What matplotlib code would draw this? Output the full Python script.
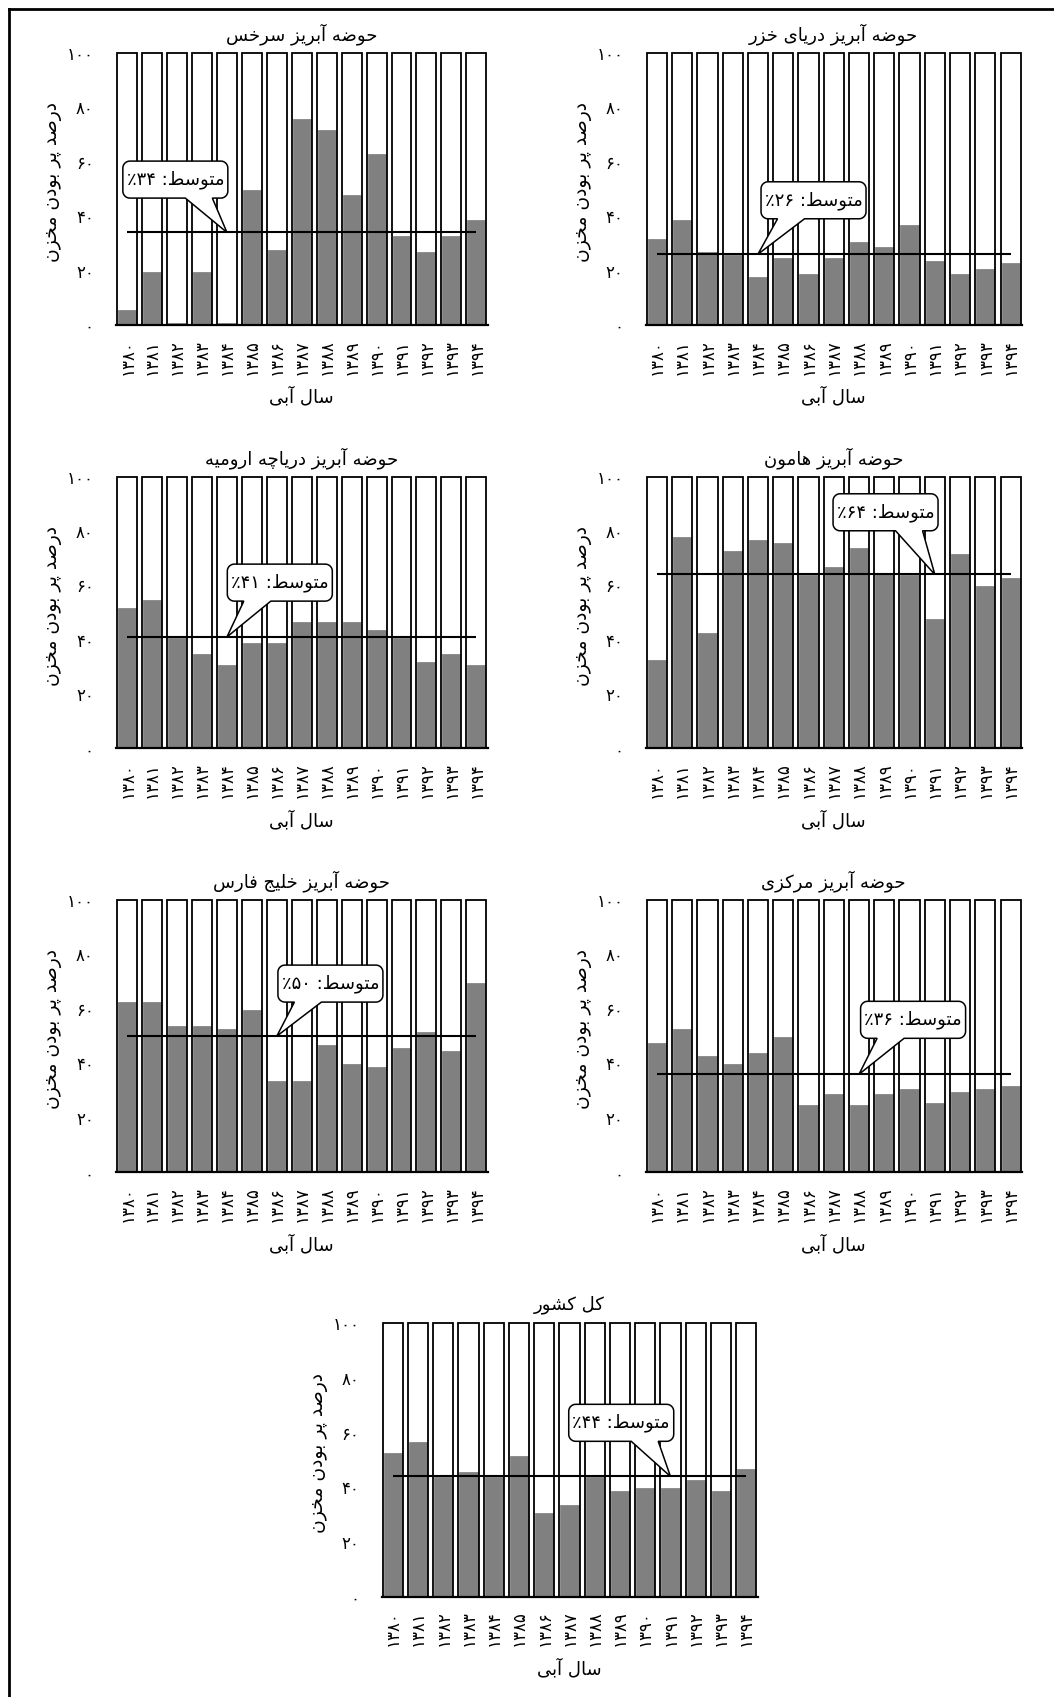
import matplotlib
matplotlib.use("Agg")
import matplotlib.pyplot as plt
import numpy as np
from matplotlib.patches import Polygon
from matplotlib.lines import Line2D
from matplotlib.transforms import IdentityTransform

plt.rcParams["font.family"] = ["DejaVu Sans"]

# ---------------------------------------------------------------- data
water_years = ["۱۳۸۰", "۱۳۸۱", "۱۳۸۲", "۱۳۸۳", "۱۳۸۴", "۱۳۸۵", "۱۳۸۶", "۱۳۸۷",
               "۱۳۸۸", "۱۳۸۹", "۱۳۹۰", "۱۳۹۱", "۱۳۹۲", "۱۳۹۳", "۱۳۹۴"]
y_ticks = [0, 20, 40, 60, 80, 100]

titles = [
    "حوضه آبریز سرخس",
    "حوضه آبریز دریای خزر",
    "حوضه آبریز دریاچه ارومیه",
    "حوضه آبریز هامون",
    "حوضه آبریز خلیج فارس",
    "حوضه آبریز مرکزی",
    "کل کشور",
]

sarakhs = [6, 20, 1, 20, 1, 50, 28, 76, 72, 48, 63, 33, 27, 33, 39]
khazar = [32, 39, 27, 26, 18, 25, 19, 25, 31, 29, 37, 24, 19, 21, 23]
urmia = [52, 55, 41, 35, 31, 39, 39, 47, 47, 47, 44, 41, 32, 35, 31]
hamoun = [33, 78, 43, 73, 77, 76, 64, 67, 74, 65, 64, 48, 72, 60, 63]
persian_gulf = [63, 63, 54, 54, 53, 60, 34, 34, 47, 40, 39, 46, 52, 45, 70]
central = [48, 53, 43, 40, 44, 50, 25, 29, 25, 29, 31, 26, 30, 31, 32]
whole_country = [53, 57, 44, 46, 44, 52, 31, 34, 44, 39, 40, 40, 43, 39, 47]

means = [34, 26, 41, 64, 50, 36, 44]

y_label = "درصد پر بودن مخزن"
x_label = "سال آبی"
mean_word = "متوسط"

# ------------------------------------------------------- persian shaping
FORMS = {  # isolated, final, initial, medial
    "\u0627": ("\uFE8D", "\uFE8E", None, None),
    "\u0622": ("\uFE81", "\uFE82", None, None),
    "\u0628": ("\uFE8F", "\uFE90", "\uFE91", "\uFE92"),
    "\u067E": ("\uFB56", "\uFB57", "\uFB58", "\uFB59"),
    "\u062A": ("\uFE95", "\uFE96", "\uFE97", "\uFE98"),
    "\u062C": ("\uFE9D", "\uFE9E", "\uFE9F", "\uFEA0"),
    "\u0686": ("\uFB7A", "\uFB7B", "\uFB7C", "\uFB7D"),
    "\u062D": ("\uFEA1", "\uFEA2", "\uFEA3", "\uFEA4"),
    "\u062E": ("\uFEA5", "\uFEA6", "\uFEA7", "\uFEA8"),
    "\u062F": ("\uFEA9", "\uFEAA", None, None),
    "\u0631": ("\uFEAD", "\uFEAE", None, None),
    "\u0632": ("\uFEAF", "\uFEB0", None, None),
    "\u0633": ("\uFEB1", "\uFEB2", "\uFEB3", "\uFEB4"),
    "\u0634": ("\uFEB5", "\uFEB6", "\uFEB7", "\uFEB8"),
    "\u0635": ("\uFEB9", "\uFEBA", "\uFEBB", "\uFEBC"),
    "\u0636": ("\uFEBD", "\uFEBE", "\uFEBF", "\uFEC0"),
    "\u0637": ("\uFEC1", "\uFEC2", "\uFEC3", "\uFEC4"),
    "\u0641": ("\uFED1", "\uFED2", "\uFED3", "\uFED4"),
    "\u06A9": ("\uFB8E", "\uFB8F", "\uFB90", "\uFB91"),
    "\u0644": ("\uFEDD", "\uFEDE", "\uFEDF", "\uFEE0"),
    "\u0645": ("\uFEE1", "\uFEE2", "\uFEE3", "\uFEE4"),
    "\u0646": ("\uFEE5", "\uFEE6", "\uFEE7", "\uFEE8"),
    "\u0647": ("\uFEE9", "\uFEEA", "\uFEEB", "\uFEEC"),
    "\u0648": ("\uFEED", "\uFEEE", None, None),
    "\u06CC": ("\uFBFC", "\uFBFD", "\uFBFE", "\uFBFF"),
}


def shape(text):
    text = text.replace("\u064A", "\u06CC").replace("\u0643", "\u06A9")
    out = []
    n = len(text)
    for i, ch in enumerate(text):
        f = FORMS.get(ch)
        if f is None:
            out.append(ch)
            continue
        prev = text[i - 1] if i > 0 else None
        nxt = text[i + 1] if i < n - 1 else None
        join_prev = prev in FORMS and FORMS[prev][2] is not None
        join_next = f[2] is not None and nxt in FORMS
        if join_prev and join_next:
            out.append(f[3])
        elif join_prev:
            out.append(f[1])
        elif join_next:
            out.append(f[2])
        else:
            out.append(f[0])
    return "".join(out)


def rtl(text):
    return shape(text)[::-1]


def fa_num(v):
    return str(v).translate(str.maketrans("0123456789", "۰۱۲۳۴۵۶۷۸۹"))


# ------------------------------------------------------------- layout
W, H = 1054, 1697
fig = plt.figure(figsize=(W / 100, H / 100), dpi=100)

cols = {"L": (116, 487.5), "R": (645.5, 1022), "C": (381.5, 757.5)}
rows = [(52.7, 325), (476.7, 748.3), (900, 1172.3), (1323.3, 1596.7)]

panels = [
    (sarakhs, "L", 0, 4, (1.93, 53.4)),
    (khazar, "R", 0, 4, (6.2, 45.8)),
    (urmia, "L", 1, 4, (6.12, 61.0)),
    (hamoun, "R", 1, 11, (9.05, 86.9)),
    (persian_gulf, "L", 2, 6, (8.15, 69.3)),
    (central, "R", 2, 8, (10.14, 56.0)),
    (whole_country, "C", 3, 11, (9.05, 63.6)),
]

GRAY = "#808080"
x = np.arange(len(water_years))


def callout(ax, cx, cy, tip_x, tip_y, text, w=105, h=37, r=7):
    X, Y = ax.transData.transform((cx, cy))
    TX, TY = ax.transData.transform((tip_x, tip_y))
    L, R, B, T = X - w / 2, X + w / 2, Y - h / 2, Y + h / 2
    if TX > X:
        b1, b2 = X + 10, X + 37
    else:
        b1, b2 = X - 36, X - 9

    def arc(cxp, cyp, a0, a1):
        t = np.radians(np.linspace(a0, a1, 10))
        return list(zip(cxp + r * np.cos(t), cyp + r * np.sin(t)))

    pts = [(b2, B)]
    pts += arc(R - r, B + r, -90, 0)
    pts += arc(R - r, T - r, 0, 90)
    pts += arc(L + r, T - r, 90, 180)
    pts += arc(L + r, B + r, 180, 270)
    pts += [(b1, B), (TX, TY)]
    poly = Polygon(pts, closed=True, fc="white", ec="black", lw=1.1,
                   transform=IdentityTransform(), zorder=6)
    fig.add_artist(poly)
    fig.text(X, Y, text, transform=IdentityTransform(), ha="center",
             va="center", fontsize=13, zorder=7)


for k, (vals, col, row, tip_i, box) in enumerate(panels):
    x0, x1 = cols[col]
    yt, yb = rows[row]
    rect = [x0 / W, 1 - yb / H, (x1 - x0) / W, (yb - yt) / H]
    ax = fig.add_axes(rect)
    ax.set_xlim(-0.45, len(water_years) - 0.55)
    ax.set_ylim(0, 100)

    # full-capacity outline, filled share, then outline on top
    ax.bar(x, [100] * len(x), width=0.8, color="white", edgecolor="none",
           zorder=1, clip_on=False)
    ax.bar(x, vals, width=0.8, color=GRAY, edgecolor="white", lw=0.9,
           zorder=2, clip_on=False)
    ax.bar(x, [100] * len(x), width=0.8, fill=False, edgecolor="black",
           lw=1.3, zorder=3, clip_on=False)

    ax.plot([x[0], x[-1]], [means[k], means[k]], color="black", lw=1.5,
            zorder=4, solid_capstyle="butt")

    for s in ("left", "right", "top"):
        ax.spines[s].set_visible(False)
    ax.spines["bottom"].set_linewidth(1.6)
    ax.spines["bottom"].set_zorder(5)

    ax.set_xticks(x)
    ax.set_xticklabels(water_years, rotation=90, fontsize=12)
    ax.set_yticks(y_ticks)
    ax.set_yticklabels([fa_num(v) for v in y_ticks], fontsize=12)
    ax.tick_params(axis="x", length=0, pad=10)
    ax.tick_params(axis="y", length=0, pad=16)

    hpx = yb - yt
    wpx = x1 - x0
    ax.text(0.5, 1 + 19 / hpx, rtl(titles[k]), transform=ax.transAxes,
            ha="center", va="center", fontsize=13)
    ax.text(-63 / wpx, 0.5 + 7 / hpx, rtl(y_label), transform=ax.transAxes,
            ha="center", va="center", rotation=90, fontsize=13.5)
    ax.text(0.5, -72 / hpx, rtl(x_label), transform=ax.transAxes,
            ha="center", va="center", fontsize=13)

    label = "\u066A" + fa_num(means[k]) + " :" + rtl(mean_word)
    callout(ax, box[0], box[1], x[tip_i], means[k], label)

# page frame (top and left edges)
fig.add_artist(Line2D([9 / W, 1], [1 - 9 / H, 1 - 9 / H], color="black",
                      lw=2, transform=fig.transFigure))
fig.add_artist(Line2D([9 / W, 9 / W], [0, 1 - 9 / H], color="black",
                      lw=2, transform=fig.transFigure))

fig.savefig("out.png", dpi=100)
